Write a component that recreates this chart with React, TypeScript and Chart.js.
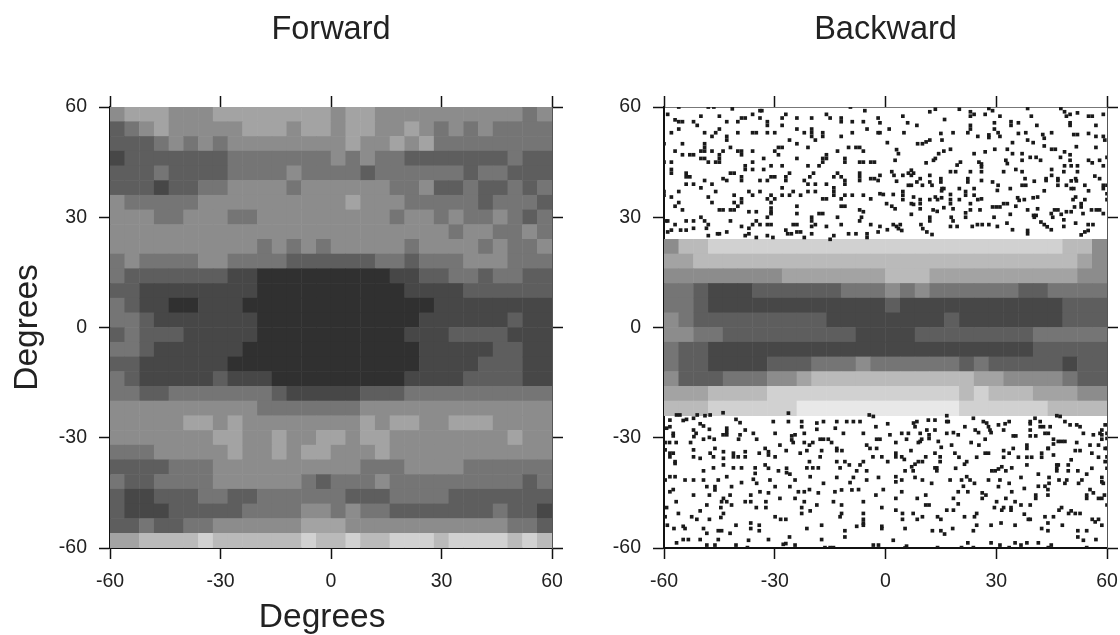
import React, { useEffect, useRef } from "react";
import { Chart, registerables } from "chart.js";

Chart.register(...registerables);

const tickValues = [-60, -30, 0, 30, 60];
const forwardTitle = "Forward";
const backwardTitle = "Backward";
const axisLabel = "Degrees";

// Share of filled cells (tenths) per 4 degree block, read by eye, rows from the top edge.
const forwardTopY = 60;
const forwardDensity = [
  "544455544444444544555555555565",
  "765455555444544544554565656666",
  "777656565555555545545466666666",
  "877777776666666565667777777677",
  "777677776666566667666666766777",
  "777877665555655555566577677676",
  "566666555555555545556666676667",
  "555665556655555555565565665676",
  "555555555555555555555556556656",
  "555555555565656555556555565665",
  "656666556666777777667666555666",
  "677777778899999999988776676677",
  "778888888899999999998888777777",
  "678899888999999999999988888888",
  "667888888899999999999888888788",
  "767778888899999999998887777888",
  "667888888999999999999888887788",
  "778888889999999999999888877788",
  "678888878889999999998888777788",
  "667766666667888887776666666666",
  "555555555566666665555555555555",
  "555554454555555554544554445555",
  "555555544554554454455555555455",
  "666555554554544555455555555555",
  "777766655555555556665555666666",
  "677666655555567666566666666676",
  "788777667766666677766667777777",
  "788877777666655656677777776778",
  "776776655555544455555555555667",
  "443333233333323323322232222323",
];

const backwardBandTopY = 24;
const backwardBandDensity = [
  "533222222222222222222222222335",
  "443333333333333333333333333345",
  "555555554444444333444444444455",
  "667888777777666565666666776666",
  "667888888888888788888888888777",
  "567777777778888888878888888777",
  "556677777777788887777777766666",
  "677888888888888888888888877777",
  "677888877766656666667677777877",
  "577766655433333333333445555677",
  "444333322222222222223233344455",
  "333222222111111111112222223333",
];

// Individual filled cells [x, y] in degrees, outside the dense band of the Backward panel.
const backwardTopLeft = [
  [-56,60],[-48,60],[-46.5,60],[-41.5,59.5],[-33.5,59],[-9.5,60],[-5.6,59],[-59,58],[-50,57.5],[-45,57.5],[-39,57],[-38,57],[-36,58],[-34,59],[-34,57],[-32,56],[-32,55],[-27,58],[-28,57],[-24,57],[-20,57],[-16,58],[-15,57],[-12,57],[-12,56],[-9,56],[-6,56],[-2,57],[-57,56.5],[-56,56],[-55,56],[-52,56],[-51,55],[-43,56],[-40,56],[-28,55],[-24,54],[-56,54],[-58,53],[-49,53],[-45,54],[-46,53],[-40,53],[-36,53],[-35,53],[-32,53],[-30,53],[-20,54],[-20,53],[-17,53],[-17,52],[-22,53],[-20,52],[-19,51],[-12,52],[-9,53],[-5,54],[-2,53],[-43,52],[-43,51],[-47,52],[-60,50],[-55,50],[-49,50],[-49,49],[-26,51],[-24,50],[-29,49],[-28,49],[-21,49],[-13,48],[-10,49],[-8,49],[-7,49],[-6,48],[-57,48],[-55,47],[-53,47],[-52,47],[-50,48],[-49,48],[-47,48],[-44,48],[-42,49],[-40,48],[-39,48],[-36,48],[-45,47],[-45,46],[-39,47],[-30,48],[-29,47],[-50,46],[-48,45],[-49,46],[-24,46],[-16,47],[-16,46],[-17,46],[-17,45],[-11,46],[-11,45],[-7,45],[-6,45],[-4,45],[-3,45],[-46,45],[-45,45],[-58,45],[-60,45],[-38,44],[-36,45],[-33,46],[-36,43],[-33,43],[-31,44],[-28,44],[-21,44],[-18,44],[-38,43],[-58,43],[-58,42],[-54,42],[-54,41],[-53,41],[-41,42],[-42,42],[-26,42],[-27,41],[-27,40],[-19.5,42],[-20.5,41],[-13,42],[-12,41],[-14,41],[-7,42],[-7,41],[-44,40.5],[-43,40],[-49,40],[-54,39],[-52,39],[-50,38],[-39,41],[-39,40],[-34,40],[-32,40],[-31,41],[-30,41],[-22,40],[-21,39],[-19,39],[-16,39],[-14,38],[-11,40],[-11,39],[-7,40],[-4,40.5],[-3,40.5],[-2,40],[-47,39],[-28,38],[-28,36],[-26,36],[-25,37],[-23,36],[-21,37],[-19,37],[-14,36],[-14,37],[-11,36],[-9,36],[-12,35],[-6,36],[-4,35],[-60,37],[-60,36],[-56,37],[-46,37],[-37,37],[-34,37],[-36,36],[-31,36],[-30,35],[-41,36],[-58,35.5],[-48,35.5],[-47,34],[-39,35],[-39,34],[-41,34],[-40,33],[-32,35],[-31,34],[-31,32.5],[-31,31.5],[-17,35],[-16,35],[-56,34],[-57,33],[-55,32],[-45,32],[-44,32],[-42,32],[-41,32],[-37,31.5],[-35,31.5],[-24,33],[-24,31],[-12,33],[-11,33],[-7,32],[-6,31.5],[-50,30],[-49,29],[-48,28],[-59.5,29],[-59,29],[-54,29],[-52,29],[-42,29],[-35,29],[-36,28],[-37,27],[-34,28],[-31,31],[-32,30],[-32,28],[-31,28],[-20,30],[-20,29],[-18,31],[-17,31],[-13,30],[-6.5,30],[-7,29],[-24,28],[-25,28],[-20,27.5],[-19,28],[-12,28],[-4,28],[-2,26],[-57,28],[-55.5,26.5],[-58,26.5],[-59,26],[-54,26.5],[-52,27],[-48.5,27],[-48,25],[-45,25.5],[-45.5,25.5],[-43,26],[-39,27.5],[-37,25.5],[-38,25],[-35,24.5],[-32,25],[-30.5,24.5],[-27,26.5],[-26.5,25.5],[-25.5,25.5],[-24,26],[-23,26],[-22,24.5],[-20,25.5],[-16,27.5],[-15,24],[-14,25],[-8,25.5],[-10,25.5],[-5,25.5],[-5,24.5],
];
const backwardTopRight = [
  [4.7,57.5],[12,58.7],[13.5,59.4],[20,59.4],[23,58.7],[24,58],[23,57.5],[27,58],[29,59],[28,59.6],[31,57.5],[38.5,59.6],[39.5,57.5],[47.5,59.6],[48.5,58.7],[50,58],[49,57.5],[52,58.4],[55,57.5],[56,57.5],[59,58],[16,56.6],[6,55.7],[8.5,55],[1,54],[5,53],[23,55],[23,54],[29.5,55.7],[34,56],[34,55],[36,55.7],[41,55],[50,55.7],[50,55],[57,55],[55,52.8],[29.5,54],[30.5,53],[31,52],[38,53],[36,52.8],[45,53],[42.6,52.5],[43,51.5],[51,52.5],[52,52.5],[57,52],[59,52],[15,52.8],[15.3,51],[18.3,53],[22.3,53],[25,52],[28,52.4],[28,51.7],[-1.5,55.7],[-1.5,53],[0.5,50.3],[8.7,50],[10,50],[11,50.5],[12,51],[34.4,50.3],[38.5,51],[40,50.3],[43,49.4],[45,48.5],[46,48.5],[57,49],[59.4,51],[51.7,49.2],[3,48.4],[3.5,47.3],[29.6,48.5],[33,48.5],[17.6,48.5],[15.8,48],[14.4,47.3],[24,47.3],[27,47.8],[34.4,47.3],[37,47.3],[48.5,47.8],[50,47],[13.5,46],[13,45.5],[2.6,45.5],[32.6,45.5],[33,44.6],[37,45.5],[39.2,46.3],[40.8,46.3],[42,45.5],[47.4,46.3],[50,45.5],[55,45.5],[56,44.8],[58,45.5],[60,46.3],[11,44.8],[20.3,45],[19.4,44.2],[25.3,45],[26,44.5],[26,43.7],[48.5,44],[50.3,44],[52,44],[59,44],[1.7,42.4],[2.3,41.4],[7,42.8],[6.2,42],[7.6,42],[7,41.4],[17.6,42.4],[19,42.4],[23,42.4],[26,42.4],[32,42.4],[35.3,43],[37,42.4],[45,43],[48.3,42.4],[52,42.4],[-1.5,41.4],[4.7,41.4],[9.4,40.5],[12,41.4],[15,40.5],[15,39.6],[22.3,40.5],[22.3,39.6],[26,40],[29,39.6],[30.5,38.7],[37.8,40.5],[40.3,39.8],[43.5,40.5],[43.5,40],[45,41.4],[46.7,40.5],[46.7,40],[50.3,39.9],[51.7,39.9],[51.5,40.5],[56.7,41.2],[58,40.5],[59,38.7],[60,38.7],[3,39.8],[6.2,38.7],[7,38.7],[8.5,39.6],[10,38.7],[12,39.6],[12.6,38.7],[30.3,37.3],[33.8,37.8],[37,38.7],[38,38.7],[46.7,38.7],[49,38.7],[50.3,37.8],[51,37.8],[54,38.7],[55,37.2],[59,37.8],[60,36.4],[15.3,37.8],[15.8,37.8],[15.2,37.2],[20,37.8],[21.7,37],[21.7,36],[24,37.8],[24,36],[43,37.2],[-1.5,36.4],[-0.6,36.2],[2.1,36.2],[4.7,37],[4.7,36],[7.6,35.5],[4.7,34.8],[12,34.8],[13.5,35.5],[15.2,35.3],[14.1,34.8],[17.6,36.2],[17.6,34.8],[17.6,33.7],[20,34.8],[23,33.7],[25,34.8],[26,35],[35.8,35.3],[36.2,34.6],[37.6,34.8],[40,35.3],[41.2,35.5],[50.8,34.8],[51.5,35.5],[54,34.8],[53,33.7],[53,32.8],[60,34.8],[9.4,34.8],[9.4,33.7],[9.4,32.3],[0.3,33.7],[1.7,33],[2.6,32.3],[7,33.7],[7.6,33.5],[15.8,32.6],[18.3,32.3],[12.9,32],[14,31.6],[23,32],[25.6,32],[29,32.8],[30,32.8],[31,32.8],[32,33.7],[33,33.7],[35.3,33],[38.5,32],[41.2,32.3],[45.8,32],[46.7,32],[44.9,31],[47.6,30.8],[49,31.5],[50.3,31.5],[51.2,32.8],[53.5,31],[55.8,32],[57.1,32],[58,32],[59,31],[7,30.8],[12,30],[12,29],[17.8,30],[18.3,29],[21.7,31.2],[21.7,30],[29.4,30],[33.8,30.8],[40.1,30.5],[40.8,30.5],[40.3,30],[45.3,30],[23.5,27.5],[24.9,28],[26.2,28],[28,28],[30.3,27.5],[32.9,28.4],[42.1,28.7],[43,28],[43.8,27.4],[44.9,26.6],[48.3,29.3],[48.3,27.5],[51.5,28.4],[54.9,28],[56.2,28],[2.1,28],[3,27.5],[4,28],[3.5,26.9],[4.4,26.4],[9.6,28],[10.1,26.9],[17.6,27.5],[19.4,27.5],[0.5,26.6],[-1.5,27.5],[34.4,26.6],[38.5,26.4],[38.5,25.5],[54.9,26.4],[54,26],[53,25.2],[11.2,26],[12.6,25.3],
];
const backwardBottomLeft = [
  [-58.4,-25.2],[-56.6,-23.8],[-55.7,-23.8],[-54.8,-25.3],[-53.9,-25],[-59.3,-27.4],[-58.4,-27],[-52,-24.7],[-51,-23.8],[-48.9,-24],[-47.5,-23.8],[-44,-23.2],[-50.2,-26.2],[-49.3,-26.8],[-52,-27.9],[-51.3,-28.8],[-51.9,-29.7],[-47.7,-27.7],[-47.7,-29.9],[-49.3,-30.4],[-46.4,-30.4],[-57.5,-28.8],[-57.5,-29.5],[-43,-27.4],[-43,-28.3],[-44,-29.2],[-43,-29.2],[-40.5,-25],[-39.4,-25.9],[-38,-27.9],[-35.8,-28.8],[-34.9,-30.4],[-39.4,-29.2],[-39.8,-30.4],[-30.4,-25.6],[-29.9,-28.8],[-26.3,-23.3],[-26.3,-25.6],[-22.7,-25.6],[-22.7,-27],[-18.6,-26],[-18.6,-27.7],[-22,-28.8],[-16.8,-25.6],[-13.2,-25.6],[-13.6,-27.4],[-11.4,-28.8],[-10.5,-25.6],[-8.7,-25.6],[-6.9,-25.6],[-6,-28.8],[-2.6,-27],[-3.3,-24.2],[-4.4,-23.8],[-25.4,-29.5],[-24.5,-29.2],[-25.4,-30.6],[-25,-31.3],[-22,-31.3],[-20.6,-32],[-19.7,-31.3],[-17.7,-30.4],[-16.8,-30.4],[-15.5,-30.4],[-14.6,-31.3],[-1.5,-30.4],[-2.4,-30.4],[-5.1,-32],[-59.7,-31.3],[-58.5,-31.3],[-56.7,-31.3],[-52.8,-31.3],[-28.6,-32],[-4.2,-32.9],[-2.4,-32.9],[-59.7,-33.3],[-58.4,-34.2],[-57.5,-34.2],[-58.4,-35.2],[-52,-33.3],[-52,-35.2],[-50.2,-35.6],[-47.5,-34.2],[-46.2,-32.9],[-46.6,-35.2],[-43.9,-33.8],[-41.2,-34.2],[-43.9,-35.6],[-41.2,-35.2],[-39.9,-35.2],[-38,-33.8],[-38,-35.2],[-34.2,-34.2],[-32.6,-32.9],[-31.7,-33.8],[-31.7,-34.7],[-29.9,-35.2],[-26.9,-33.5],[-23.1,-34.2],[-21.3,-33.5],[-17.3,-33.5],[-17.7,-35.2],[-13.2,-32.9],[-13.2,-33.5],[-11.8,-33.5],[-3.4,-35.2],[-1,-35.2],[-57,-37],[-57,-36.5],[-49.3,-39],[-46.6,-38.2],[-43.9,-37.4],[-41.2,-38.2],[-39,-38.2],[-35.3,-38.2],[-35.3,-39.7],[-32.6,-37.4],[-31.7,-38.3],[-29,-39],[-26.8,-38.3],[-26.8,-39.5],[-25.9,-39.9],[-21.3,-38.2],[-19.7,-38.2],[-18.2,-38.2],[-20.6,-36.5],[-13.2,-36.5],[-11,-36.5],[-9.8,-37.4],[-6,-36.5],[-6.9,-37.4],[-12.3,-38.2],[-7.8,-39],[-5.1,-39],[-58.4,-40.6],[-57,-40.6],[-59.7,-41.5],[-54.3,-41.5],[-52,-41.5],[-49.3,-41.5],[-45.3,-41.5],[-43,-40.6],[-39,-42.2],[-35.8,-41.3],[-34.9,-42.4],[-31.3,-41.5],[-24.5,-41.5],[-20.4,-40.6],[-16.8,-42.4],[-13.2,-40.8],[-8.7,-40.8],[-9.6,-42.2],[-5.1,-41.5],[-1.9,-40.8],[-48.4,-43.3],[-46.2,-43.3],[-46.2,-44.2],[-41.7,-43.3],[-58.4,-44.7],[-57.5,-44.1],[-52,-45.6],[-34,-44.7],[-31.7,-45],[-29.9,-43.3],[-25.9,-43.3],[-23.6,-44.7],[-24.5,-46.5],[-22,-44.7],[-20.6,-44.1],[-18.2,-45],[-13.7,-44.7],[-11.9,-44.2],[-9.1,-44.2],[-7.3,-44.1],[-0.6,-44.1],[-2.6,-45.6],[-47.7,-45.6],[-42.1,-45.6],[-36.5,-45.6],[-43.9,-46.5],[-44.4,-47.4],[-43,-47.4],[-38,-47.4],[-36.5,-47.4],[-32.4,-47.4],[-28.6,-46.5],[-22,-47.4],[-14.1,-47.4],[-6,-47.4],[-11.9,-48.3],[-56.7,-47.4],[-41.7,-48.3],[-44.6,-49],[-35,-49],[-32.4,-49],[-18.6,-48.3],[-22.7,-49],[-22.7,-50.6],[-59.3,-49],[-50.2,-49.9],[-48.4,-48.3],[-20.4,-49.9],[-1,-49],[-56.1,-50.6],[-43.9,-50.6],[-44.6,-51.7],[-11.9,-50.6],[-12.3,-51.5],[-6,-50.6],[-6,-52.2],[-6,-53.2],[-59.7,-51.5],[-52.5,-51.5],[-51.1,-52.2],[-47.7,-52.2],[-29.9,-51.5],[-28.4,-52.2],[-27,-52.2],[-59.1,-53.8],[-57.3,-54.7],[-54.8,-54.1],[-54.3,-54.7],[-49.3,-54.7],[-44.4,-55.3],[-40.5,-53.8],[-36.5,-53.2],[-36.5,-54.7],[-34.2,-53.8],[-34.2,-55.3],[-21.3,-54.7],[-17.3,-53.8],[-11,-55.3],[-11,-57],[-7.8,-54.1],[-6,-53.8],[-1,-54.1],[-1,-54.7],[-48.4,-56],[-45.3,-55.3],[-42.1,-56],[-56.6,-58.6],[-54.8,-57.7],[-53.4,-57.7],[-50.2,-57.7],[-45.3,-57.7],[-37.1,-57.9],[-31.7,-57.7],[-26,-57],[-17.3,-57.7],[-48.4,-59.2],[-46.2,-59.2],[-40.5,-59.2],[-37.4,-59.9],[-27.7,-59],[-27,-58.8],[-24.5,-59.2],[-16.4,-59.9],[-15,-59.9],[-14.1,-59.9],[-3.3,-59.2],[-1.9,-59.2],
];
const backwardBottomRight = [
  [16.6,-25.6],[17,-25.6],[7.6,-26],[8.5,-25.6],[8,-27],[11.6,-25.2],[13.4,-25.2],[16.6,-24],[0.6,-26.2],[21.5,-27],[23.8,-24.7],[24.3,-27.9],[25.2,-28.6],[26.5,-25.6],[27.4,-26],[27.9,-27],[28.3,-27.9],[28.6,-28.6],[30.6,-26.5],[32.4,-26.2],[33.5,-25.6],[32,-27.9],[39.2,-25.6],[39.2,-26.2],[39.2,-27.9],[40.5,-24.7],[41.9,-25.6],[41.9,-27],[42.8,-27],[44.6,-27],[46.4,-24],[47.3,-24.2],[48.6,-25.6],[50,-26.5],[51.8,-26.5],[52.7,-27],[59.5,-26.5],[58.6,-27.9],[60,-28.8],[60,-30.2],[1.2,-29.2],[4.4,-28.8],[6.2,-28.8],[9.4,-28.8],[11.2,-27.9],[13.4,-27.9],[11.8,-29.2],[11.8,-30.2],[5.7,-30.4],[8.9,-31.3],[9.8,-30.4],[9.4,-31],[16.6,-28.8],[18.4,-28.6],[19.7,-29.2],[14.3,-31],[17.9,-32],[2.8,-31.3],[6.9,-33.5],[2.8,-34.2],[2.8,-35.2],[23.2,-31.3],[25.3,-32],[27,-30.4],[34.6,-29.5],[35.3,-29.5],[39.2,-29.5],[40.7,-29.5],[43.2,-28.8],[44.1,-28.8],[38.3,-32],[38.3,-32.9],[45.5,-30.4],[45.5,-31.7],[44.1,-32.9],[46.8,-31],[47.7,-31],[48.6,-31],[51.8,-31.3],[53.6,-28.8],[55.4,-32],[56.3,-29.2],[58.1,-28.8],[57.7,-32],[58.6,-29.2],[58.6,-30.4],[60,-32.9],[59.5,-32.9],[15.1,-32.6],[13.4,-34.2],[14.8,-35.2],[14.8,-36.5],[10.9,-35.2],[10,-36.5],[4.4,-35.2],[5.1,-35.9],[0.6,-36.5],[18.8,-34.2],[19.9,-35.3],[27,-34.2],[27.9,-34.2],[24.7,-35.3],[22,-36.5],[21.4,-37.2],[19,-38.3],[32,-33.5],[32,-35.3],[33.5,-34.2],[34.6,-32.9],[36,-35.3],[38.3,-35.3],[39.6,-35.3],[42.3,-34.2],[42.3,-35.3],[44,-32.9],[45.5,-34.7],[51.4,-33.5],[52.7,-33.5],[55.9,-34.2],[57.7,-35.3],[60,-35.2],[59.5,-36.5],[50.3,-36],[8.9,-36.5],[8,-37.2],[7.1,-37.9],[7.5,-39],[5.3,-39],[13.4,-38.2],[13.9,-38.2],[13.9,-39],[31.5,-37.9],[30.6,-38.5],[32.6,-39],[34.2,-38.2],[28.8,-39],[29.7,-39],[38.3,-37.4],[41.4,-39.9],[46.4,-37.4],[46.4,-38.3],[46.4,-39],[46.8,-37.4],[49.5,-37.4],[49.5,-39],[52.1,-39],[54.5,-39.9],[55.9,-38.3],[60,-38.3],[2.8,-40.6],[2.8,-42],[4.4,-41.5],[8,-40.8],[10,-41.5],[12.5,-42.4],[17.5,-41.5],[20.6,-41.5],[22,-40.6],[22.9,-41.5],[24.1,-42.4],[21.1,-43.2],[27.9,-41.5],[31,-41.5],[33.5,-42.4],[36.7,-40.8],[41.4,-43.2],[43.2,-43.2],[44.3,-40.8],[44.3,-42.4],[47,-41.5],[49.1,-41.5],[48.6,-42.4],[52.3,-42.4],[53.2,-41.5],[58.6,-40.8],[58.6,-42],[59,-42.4],[4.4,-44.7],[19.7,-44.7],[22.3,-44.7],[30.6,-43.3],[34.2,-44.7],[37.6,-43.8],[44,-44.1],[44,-45.6],[55.4,-44.1],[56.3,-45],[2.8,-46.5],[8.6,-46.5],[10.9,-45.6],[18.4,-46.5],[26.2,-45],[26.2,-46.5],[27.2,-45.6],[32.6,-46.5],[40.7,-45.6],[40.7,-46.5],[54.5,-45.6],[54.5,-46.5],[57.7,-46.5],[58.6,-46.5],[59.3,-45.6],[30.1,-47.4],[35.1,-47.4],[19.7,-48],[10.9,-48.3],[11.8,-48.3],[36.7,-48.3],[39.2,-48.3],[29.5,-49],[31.5,-49.7],[32,-49],[34,-49],[34,-49.7],[2.8,-49.7],[16.6,-49.7],[18.4,-49.7],[60,-48.3],[47.7,-49],[47,-49.7],[37.6,-50.8],[49.6,-50.6],[50.3,-49.9],[51.4,-50.6],[52.7,-50.6],[4.6,-50.6],[4.6,-52.2],[7.5,-50.6],[8.6,-52.2],[10,-51.5],[14.1,-51.5],[15,-52.2],[21.4,-51.5],[24.1,-51.5],[24.7,-50.6],[38.7,-52.2],[39.2,-52.2],[43.2,-51.5],[45.5,-51.5],[44,-53.2],[56,-52.2],[57.7,-52.2],[56.8,-52.9],[58.6,-53.8],[31.3,-53.2],[28.6,-53.8],[24.7,-53.8],[35.1,-53.8],[47.9,-53.8],[5.3,-54.7],[12.7,-55.3],[15,-55.3],[16,-56.2],[18.2,-54.7],[23.8,-55.3],[42.3,-54.7],[44,-55.3],[52.1,-55.3],[52.1,-57],[53.6,-57.9],[57,-57.7],[54.5,-55.3],[2.1,-57.9],[5.7,-59.5],[5.3,-60],[14.1,-59.9],[20.6,-59.9],[22.3,-58.6],[23.8,-59.9],[28.6,-58.6],[31,-59.2],[33.5,-59.9],[35.1,-58.6],[36.7,-59.2],[38.3,-58.6],[41.4,-58.6],[44.9,-59.2],[44.1,-59.9],[54.5,-59.9],
];

const FONT = "'Liberation Sans', Arial, sans-serif";
const INK = "#1a1a1a";
const BLOCK_DEG = 4;
const TITLE_SIZE = 32.5;

function blocks(rows: string[], topY: number) {
  const out: { x: number; y: number; level: number }[] = [];
  rows.forEach((row, r) => {
    [...row].forEach((ch, c) => {
      const level = Number(ch);
      if (level > 0) out.push({ x: -60 + BLOCK_DEG * (c + 0.5), y: topY - BLOCK_DEG * (r + 0.5), level });
    });
  });
  return out;
}
const grey = (level: number) => {
  const g = Math.round(255 - level * 23);
  return `rgb(${g},${g},${g})`;
};

type Panel = {
  title: string;
  rows: string[];
  topY: number;
  cells: number[][];
  leftW: number;
  rightW: number;
  labels: boolean;
};

function makeChart(canvas: HTMLCanvasElement, p: Panel) {
  const blockPts = blocks(p.rows, p.topY);
  const TITLE_H = TITLE_SIZE * 1.2 + 11;
  const tickOpts = { drawOnChartArea: false, drawTicks: true, tickLength: 11, tickColor: "#111", tickWidth: 1.5 };
  const setTicks = (s: any) => {
    s.ticks = tickValues.map((value) => ({ value }));
  };
  return new Chart(canvas, {
    type: "scatter",
    data: {
      datasets: [
        {
          data: p.cells.map(([x, y]) => ({ x, y })),
          pointStyle: "rect",
          pointRadius: 2.6,
          pointBorderWidth: 0,
          pointBackgroundColor: INK,
        },
        {
          data: blockPts.map(({ x, y }) => ({ x, y })),
          pointStyle: "rect",
          pointRadius: 10.8,
          pointBorderWidth: 0,
          pointBackgroundColor: blockPts.map((b) => grey(b.level)),
        },
      ],
    },
    plugins: [
      {
        id: "xName",
        afterDraw(chart: any) {
          if (!p.labels) return;
          const { ctx, scales } = chart;
          ctx.save();
          ctx.font = `33.5px ${FONT}`;
          ctx.fillStyle = "#222";
          ctx.textAlign = "center";
          ctx.textBaseline = "middle";
          ctx.fillText(axisLabel, scales.x.getPixelForValue(-2.4), 618);
          ctx.restore();
        },
      },
    ],
    options: {
      animation: false,
      responsive: false,
      events: [],
      layout: { padding: 0 },
      plugins: {
        legend: { display: false },
        tooltip: { enabled: false },
        title: {
          display: true,
          text: p.title,
          fullSize: false,
          color: "#222",
          font: { family: FONT, size: TITLE_SIZE, weight: "normal", lineHeight: 1.2 },
          padding: { top: 11, bottom: 0 },
        },
      },
      scales: {
        x: {
          type: "linear",
          position: "bottom",
          min: -60,
          max: 60,
          afterBuildTicks: setTicks,
          afterFit: (s: any) => { s.height = 635 - 548; },
          ticks: { maxRotation: 0, autoSkip: false, padding: 11, color: "#222", font: { family: FONT, size: 19.5 } },
          grid: tickOpts,
          border: { color: "#111", width: 2 },
        },
        x2: {
          type: "linear",
          position: "top",
          axis: "x",
          min: -60,
          max: 60,
          afterBuildTicks: setTicks,
          afterFit: (s: any) => { s.height = 107 - TITLE_H; },
          ticks: { display: false },
          grid: tickOpts,
          border: { color: "#777", width: 1 },
        },
        y: {
          type: "linear",
          position: "left",
          min: -60,
          max: 60,
          afterBuildTicks: setTicks,
          afterFit: (s: any) => { s.width = p.leftW; },
          ticks: { padding: 12, color: "#222", font: { family: FONT, size: 19.5 } },
          grid: tickOpts,
          border: { color: "#111", width: 2 },
          title: {
            display: p.labels,
            text: axisLabel,
            color: "#222",
            font: { family: FONT, size: 33.5, weight: "normal", lineHeight: 1.2 },
            padding: { top: 8, bottom: 0 },
          },
        },
        y2: {
          type: "linear",
          position: "right",
          axis: "y",
          min: -60,
          max: 60,
          afterBuildTicks: setTicks,
          afterFit: (s: any) => { s.width = p.rightW; },
          ticks: { display: false },
          grid: tickOpts,
          border: { color: "#555", width: 1 },
        },
      },
    } as any,
  } as any);
}

export default function App() {
  const leftRef = useRef<HTMLCanvasElement>(null);
  const rightRef = useRef<HTMLCanvasElement>(null);
  useEffect(() => {
    const a = makeChart(leftRef.current!, {
      title: forwardTitle,
      rows: forwardDensity,
      topY: forwardTopY,
      cells: [],
      leftW: 110,
      rightW: 48,
      labels: true,
    });
    const b = makeChart(rightRef.current!, {
      title: backwardTitle,
      rows: backwardBandDensity,
      topY: backwardBandTopY,
      cells: [...backwardTopLeft, ...backwardTopRight, ...backwardBottomLeft, ...backwardBottomRight],
      leftW: 64,
      rightW: 53,
      labels: false,
    });
    return () => {
      a.destroy();
      b.destroy();
    };
  }, []);
  return (
    <div style={{ position: "absolute", left: 0, top: 0, width: 1120, height: 635, background: "#fff", overflow: "hidden" }}>
      <canvas ref={leftRef} width={600} height={635} style={{ position: "absolute", left: 0, top: 0 }} />
      <canvas ref={rightRef} width={560} height={635} style={{ position: "absolute", left: 600, top: 0 }} />
    </div>
  );
}
